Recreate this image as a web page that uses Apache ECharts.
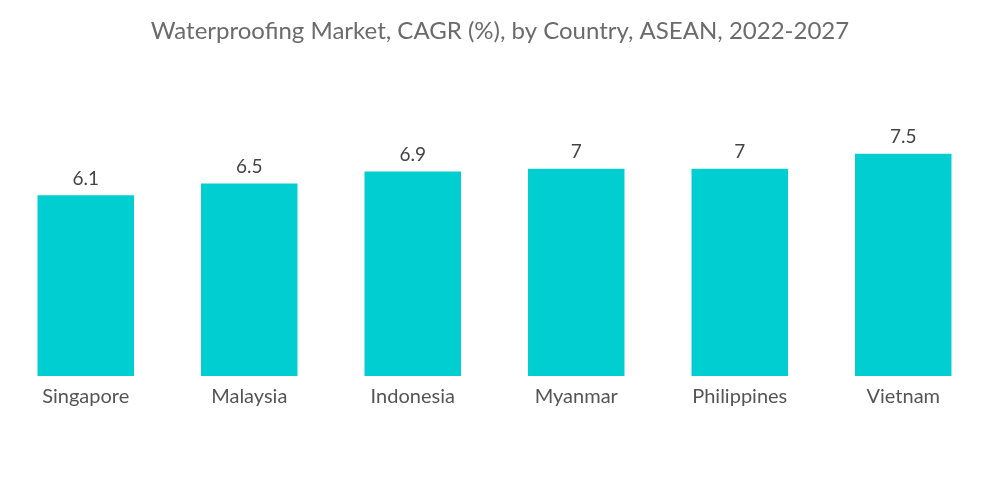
<!DOCTYPE html>
<html><head><meta charset="utf-8">
<script src="https://cdn.jsdelivr.net/npm/echarts@6/dist/echarts.min.js"></script>
<style>html,body{margin:0;padding:0;background:#fff}#c{width:1000px;height:504px}</style>
</head><body><div id="c"></div>
<script>
const categories = ["Singapore","Malaysia","Indonesia","Myanmar","Philippines","Vietnam"];
const values = [6.1, 6.5, 6.9, 7, 7, 7.5];
const titleText = "Waterproofing Market, CAGR (%), by Country, ASEAN, 2022-2027";
const chart = echarts.init(document.getElementById('c'), null, {renderer:'canvas'});
chart.setOption({
  animation:false,
  title:{text:titleText,left:'center',top:14,textStyle:{fontFamily:'Lato',fontSize:24,fontWeight:'normal',color:'#6b6b6b'}},
  grid:{left:4,right:15,top:139,bottom:128,containLabel:false},
  xAxis:{type:'category',data:categories,axisLine:{show:false},axisTick:{show:false},
    axisLabel:{fontFamily:'Lato',fontSize:20,color:'#555',margin:11}},
  yAxis:{type:'value',min:0,max:8,show:false,splitLine:{show:false}},
  series:[{type:'bar',data:values,barWidth:'59%',itemStyle:{color:'#00CED1'},
    label:{show:true,position:'top',distance:7,fontFamily:'Lato',fontSize:19,color:'#444'}}]
});
</script></body></html>
